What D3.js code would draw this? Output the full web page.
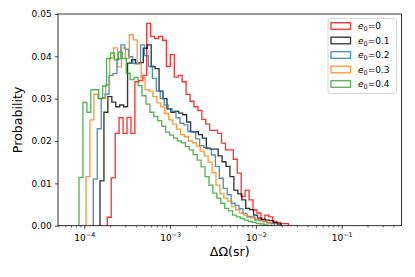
<!DOCTYPE html>
<html><head><meta charset="utf-8">
<script src="https://cdn.jsdelivr.net/npm/d3@7"></script>
<style>
body{margin:0;background:#fff}
svg{display:block}
text{font-family:"DejaVu Sans",sans-serif;fill:#000}
</style>
</head><body>
<svg id="chart" width="415" height="277"></svg>
<script>
// ---- data ----
const seriesLabels = ["0", "0.1", "0.2", "0.3", "0.4"];
const seriesColors = ["#ff0000", "#000000", "#1f77b4", "#ff7f0e", "#2ca02c"];
// log10 of first bin edge of each series, and bin width in decades
const binStartLog = [-3.7319, -3.8170, -3.8951, -3.9802, -4.0618];
const binWidthLog = 0.0459;

const probE00 = [0.0020, 0.0113, 0.0218, 0.0255, 0.0218, 0.0256, 0.0218, 0.0340, 0.0343, 0.0355,
  0.0478, 0.0447, 0.0442, 0.0447, 0.0438, 0.0376, 0.0404, 0.0351, 0.0355, 0.0340,
  0.0310, 0.0294, 0.0281, 0.0272, 0.0251, 0.0240, 0.0225, 0.0225, 0.0218, 0.0195,
  0.0179, 0.0179, 0.0157, 0.0124, 0.0069, 0.0084, 0.0061, 0.0037, 0.0030, 0.0015,
  0.0025, 0.0021, 0.0010, 0.0008, 0.0005, 0.0005];
const probE01 = [0.0106, 0.0268, 0.0305, 0.0292, 0.0281, 0.0285, 0.0281, 0.0384, 0.0392, 0.0383,
  0.0385, 0.0419, 0.0427, 0.0376, 0.0371, 0.0318, 0.0300, 0.0276, 0.0268, 0.0270,
  0.0266, 0.0262, 0.0245, 0.0222, 0.0222, 0.0215, 0.0207, 0.0183, 0.0181, 0.0181,
  0.0165, 0.0151, 0.0140, 0.0116, 0.0084, 0.0075, 0.0061, 0.0041, 0.0038, 0.0025,
  0.0018, 0.0015, 0.0013, 0.0012, 0.0007, 0.0004];
const probE02 = [0.0110, 0.0229, 0.0302, 0.0311, 0.0355, 0.0359, 0.0394, 0.0427, 0.0417, 0.0399,
  0.0383, 0.0385, 0.0427, 0.0402, 0.0376, 0.0348, 0.0318, 0.0300, 0.0285, 0.0276,
  0.0270, 0.0255, 0.0242, 0.0238, 0.0223, 0.0222, 0.0205, 0.0189, 0.0185, 0.0182,
  0.0167, 0.0140, 0.0112, 0.0088, 0.0073, 0.0053, 0.0048, 0.0040, 0.0029, 0.0022,
  0.0021, 0.0013, 0.0012, 0.0010, 0.0007, 0.0005];
const probE03 = [0.0116, 0.0250, 0.0311, 0.0300, 0.0300, 0.0333, 0.0396, 0.0420, 0.0375, 0.0420,
  0.0395, 0.0451, 0.0439, 0.0383, 0.0350, 0.0321, 0.0318, 0.0305, 0.0290, 0.0280,
  0.0265, 0.0250, 0.0240, 0.0228, 0.0215, 0.0210, 0.0200, 0.0196, 0.0188, 0.0176,
  0.0165, 0.0150, 0.0125, 0.0096, 0.0075, 0.0065, 0.0058, 0.0045, 0.0037, 0.0030,
  0.0025, 0.0020, 0.0018, 0.0015, 0.0012, 0.0010, 0.0007];
const probE04 = [0.0114, 0.0291, 0.0268, 0.0321, 0.0321, 0.0300, 0.0330, 0.0395, 0.0408, 0.0392,
  0.0410, 0.0395, 0.0360, 0.0345, 0.0350, 0.0331, 0.0307, 0.0287, 0.0268, 0.0258,
  0.0248, 0.0235, 0.0221, 0.0214, 0.0207, 0.0200, 0.0196, 0.0187, 0.0179, 0.0168,
  0.0155, 0.0139, 0.0116, 0.0096, 0.0077, 0.0065, 0.0053, 0.0041, 0.0035, 0.0025,
  0.0021, 0.0017, 0.0013, 0.0010, 0.0008, 0.0005, 0.0004, 0.0002];

const yTickValues = [0, 0.01, 0.02, 0.03, 0.04, 0.05];
const yTickLabels = ["0.00", "0.01", "0.02", "0.03", "0.04", "0.05"];
const xMajorExponents = [-4, -3, -2, -1];
const xMajorLabels = ["\u22124", "\u22123", "\u22122", "\u22121"];
const xDomain = [Math.pow(10, -4.3065), Math.pow(10, -0.303)];
const yDomain = [0, 0.05];

const allSeries = [probE00, probE01, probE02, probE03, probE04];

// ---- layout ----
const L = 58, R = 401.5, T = 14, B = 225.7;
const svg = d3.select("#chart");
const x = d3.scaleLog().domain(xDomain).range([L, R]);
const y = d3.scaleLinear().domain(yDomain).range([B, T]);

// ---- histograms (step outlines) ----
const line = d3.line().x(d => x(d[0])).y(d => y(d[1]));
allSeries.forEach((vals, s) => {
  const edge = i => Math.pow(10, binStartLog[s] + i * binWidthLog);
  const pts = [[edge(0), 0]];
  vals.forEach((v, i) => { pts.push([edge(i), v]); pts.push([edge(i + 1), v]); });
  pts.push([edge(vals.length), 0]);
  svg.append("path").attr("d", line(pts))
    .attr("fill", "none").attr("stroke", seriesColors[s])
    .attr("stroke-width", 1.35).attr("stroke-opacity", 0.8)
    .attr("stroke-linejoin", "miter");
});

// ---- y axis ----
const yAxis = d3.axisLeft(y).tickValues(yTickValues)
  .tickFormat((d, i) => yTickLabels[i]).tickSize(3.2).tickPadding(3.2);
const gy = svg.append("g").attr("transform", `translate(${L},0)`).call(yAxis);
gy.select(".domain").remove();
gy.selectAll("line").attr("stroke", "#000").attr("stroke-width", 0.75);
gy.selectAll("text").attr("font-size", 9).attr("font-family", "DejaVu Sans");

// ---- x axis ----
const majors = xMajorExponents.map(e => Math.pow(10, e));
const minors = [];
for (let e = -5; e <= 0; e++) for (let m = 2; m <= 9; m++) {
  const v = m * Math.pow(10, e);
  if (v > xDomain[0] && v < xDomain[1]) minors.push(v);
}
const gxMinor = svg.append("g").attr("transform", `translate(0,${B})`)
  .call(d3.axisBottom(x).tickValues(minors).tickSize(1.8).tickFormat(""));
gxMinor.select(".domain").remove();
gxMinor.selectAll("line").attr("stroke", "#000").attr("stroke-width", 0.6);

const gx = svg.append("g").attr("transform", `translate(0,${B})`)
  .call(d3.axisBottom(x).tickValues(majors).tickSize(3.2).tickFormat(""));
gx.select(".domain").remove();
gx.selectAll("line").attr("stroke", "#000").attr("stroke-width", 0.75);
gx.selectAll(".tick").each(function(d, i) {
  const t = d3.select(this).append("text").attr("y", 15).attr("text-anchor", "middle")
    .attr("font-size", 9).attr("font-family", "DejaVu Sans").attr("fill", "#000");
  t.append("tspan").text("10");
  t.append("tspan").attr("dy", -3.6).attr("font-size", 6.4).text(xMajorLabels[i]);
});

// ---- spines ----
svg.append("rect").attr("x", L).attr("y", T).attr("width", R - L).attr("height", B - T)
  .attr("fill", "none").attr("stroke", "#000").attr("stroke-width", 0.8);

// ---- axis labels ----
svg.append("text").attr("x", (L + R) / 2).attr("y", 256).attr("text-anchor", "middle")
  .attr("font-size", 12.6).text("\u0394\u03a9(sr)");
svg.append("text").attr("transform", `translate(22,${(T + B) / 2}) rotate(-90)`)
  .attr("text-anchor", "middle").attr("font-size", 12.6).text("Probability");

// ---- legend ----
const lg = svg.append("g");
lg.append("rect").attr("x", 328).attr("y", 18.5).attr("width", 68.5).attr("height", 75)
  .attr("rx", 2.5).attr("fill", "#fff").attr("fill-opacity", 0.8)
  .attr("stroke", "#cccccc").attr("stroke-width", 0.8);
seriesLabels.forEach((lab, i) => {
  const cy = 26 + i * 14.5;
  lg.append("rect").attr("x", 331).attr("y", cy - 3.3).attr("width", 19.5).attr("height", 6.6)
    .attr("fill", "none").attr("stroke", seriesColors[i]).attr("stroke-width", 1.35)
    .attr("stroke-opacity", 0.8);
  const t = lg.append("text").attr("x", 358).attr("y", cy + 3.3).attr("font-size", 9);
  t.append("tspan").attr("font-style", "italic").text("e");
  t.append("tspan").attr("dy", 1.8).attr("font-size", 6.4).text("0");
  t.append("tspan").attr("dy", -1.8).text("=" + lab);
});
</script>
</body></html>
